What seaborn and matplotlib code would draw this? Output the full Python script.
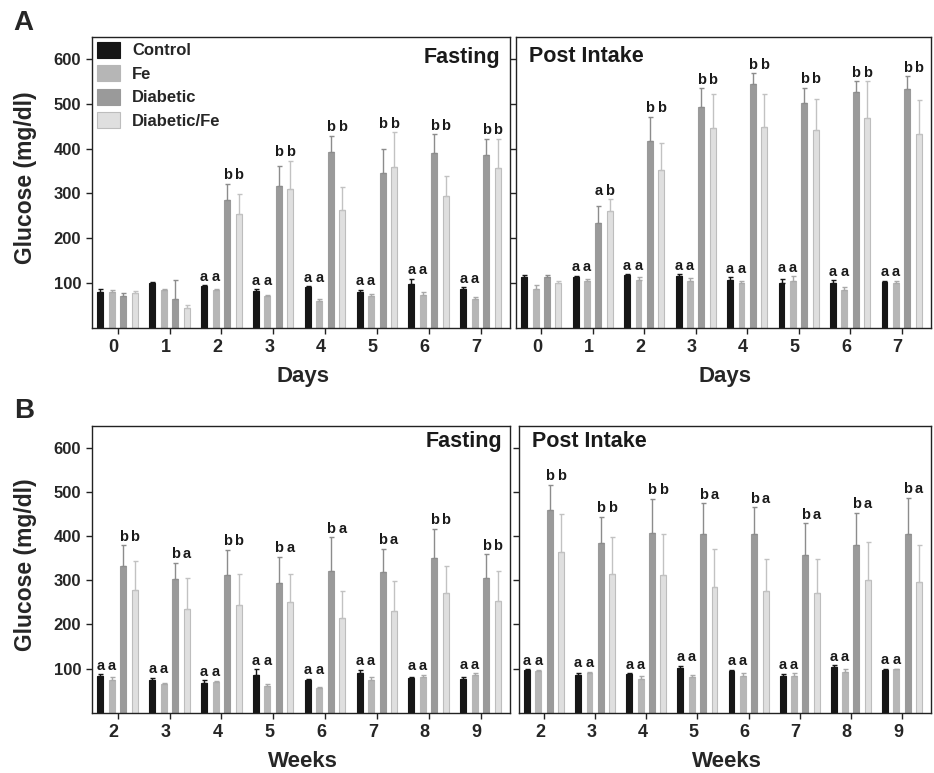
import pandas as pd
import matplotlib
matplotlib.use("Agg")
import matplotlib.pyplot as plt
import matplotlib.transforms as mtransforms
from matplotlib.patches import Patch
from matplotlib.container import BarContainer
import seaborn as sns

# groups and their grey shades
groups = ["Control", "Fe", "Diabetic", "Diabetic/Fe"]
bar_colors = ["#161616", "#b6b6b6", "#9a9a9a", "#dfdfdf"]
edge_colors = ["#161616", "#b6b6b6", "#9a9a9a", "#bdbdbd"]
err_colors = ["#161616", "#a9a9a9", "#8c8c8c", "#c2c2c2"]

days = ["0", "1", "2", "3", "4", "5", "6", "7"]
weeks = ["2", "3", "4", "5", "6", "7", "8", "9"]

# A - fasting (days)
a_fast_mean = {
    "Control": [80, 100, 93, 82, 91, 80, 97, 86],
    "Fe": [80, 84, 84, 71, 59, 71, 74, 64],
    "Diabetic": [71, 64, 285, 316, 392, 346, 391, 385],
    "Diabetic/Fe": [77, 43, 253, 309, 264, 358, 295, 356],
}
a_fast_err = {
    "Control": [7, 2, 2, 4, 2, 5, 13, 4],
    "Fe": [4, 3, 3, 3, 6, 5, 5, 4],
    "Diabetic": [6, 43, 37, 45, 37, 53, 41, 37],
    "Diabetic/Fe": [4, 7, 46, 64, 50, 79, 43, 66],
}
a_fast_letters = ["", "", "aabb", "aabb", "aabb", "aabb", "aabb", "aabb"]

# A - post intake (days)
a_post_mean = {
    "Control": [113, 114, 117, 116, 106, 101, 100, 102],
    "Fe": [86, 104, 107, 104, 100, 104, 84, 101],
    "Diabetic": [113, 234, 417, 494, 544, 503, 527, 533],
    "Diabetic/Fe": [101, 260, 352, 447, 449, 441, 469, 432],
}
a_post_err = {
    "Control": [4, 2, 2, 3, 7, 9, 6, 3],
    "Fe": [9, 4, 6, 8, 5, 11, 6, 3],
    "Diabetic": [4, 39, 54, 41, 24, 33, 24, 29],
    "Diabetic/Fe": [4, 27, 61, 74, 72, 70, 81, 76],
}
a_post_letters = ["", "aaab", "aabb", "aabb", "aabb", "aabb", "aabb", "aabb"]

# B - fasting (weeks)
b_fast_mean = {
    "Control": [83, 74, 68, 86, 73, 89, 79, 77],
    "Fe": [74, 65, 69, 60, 56, 74, 80, 86],
    "Diabetic": [333, 302, 311, 293, 321, 319, 351, 304],
    "Diabetic/Fe": [277, 234, 244, 250, 215, 231, 271, 253],
}
b_fast_err = {
    "Control": [4, 5, 6, 13, 4, 8, 2, 4],
    "Fe": [7, 3, 2, 5, 3, 6, 6, 4],
    "Diabetic": [46, 38, 58, 60, 77, 52, 66, 55],
    "Diabetic/Fe": [66, 70, 71, 65, 60, 67, 62, 69],
}
b_fast_letters = ["aabb", "aaba", "aabb", "aaba", "aaba", "aaba", "aabb", "aabb"]

# B - post intake (weeks)
b_post_mean = {
    "Control": [96, 86, 87, 101, 94, 83, 104, 97],
    "Fe": [95, 89, 77, 80, 83, 83, 93, 98],
    "Diabetic": [459, 384, 407, 405, 405, 357, 380, 405],
    "Diabetic/Fe": [365, 314, 311, 285, 276, 271, 301, 296],
}
b_post_err = {
    "Control": [3, 5, 2, 5, 3, 4, 4, 3],
    "Fe": [2, 4, 7, 5, 6, 7, 5, 2],
    "Diabetic": [57, 60, 78, 69, 60, 72, 73, 82],
    "Diabetic/Fe": [84, 84, 94, 85, 71, 76, 85, 83],
}
b_post_letters = ["aabb", "aabb", "aabb", "aaba", "aaba", "aaba", "aaba", "aaba"]

sns.set_theme(style="ticks")
plt.rcParams["font.family"] = ["Liberation Sans", "DejaVu Sans"]
plt.rcParams["font.weight"] = "bold"
plt.rcParams["axes.labelweight"] = "bold"


def draw_panel(ax, cats, means, errs, letters, title, title_pos, xlabel, xlab_y, show_y):
    rows = []
    for g in groups:
        for c, m in zip(cats, means[g]):
            rows.append({"t": c, "glucose": m, "group": g})
    df = pd.DataFrame(rows)

    sns.barplot(data=df, x="t", y="glucose", hue="group", order=cats, hue_order=groups,
                palette=bar_colors, saturation=1, width=0.89, gap=0.48,
                errorbar=None, legend=False, ax=ax)

    # edges + error bars (upper only)
    bar_conts = [c for c in ax.containers if isinstance(c, BarContainer)]
    centers = {}
    for k, cont in enumerate(bar_conts):
        g = groups[k]
        xs, ys = [], []
        for bar in cont:
            bar.set_edgecolor(edge_colors[k])
            bar.set_linewidth(0.8)
            xs.append(bar.get_x() + bar.get_width() / 2)
            ys.append(bar.get_height())
        centers[g] = xs
        ax.errorbar(xs, ys, yerr=[[0] * len(ys), errs[g]], fmt="none",
                    ecolor=err_colors[k], elinewidth=1, capsize=1.8, capthick=1, zorder=1)

    # significance letters
    for j, lab in enumerate(letters):
        if not lab:
            continue
        for pair in [(0, 1), (2, 3)]:
            top = max(means[groups[p]][j] + errs[groups[p]][j] for p in pair)
            for p in pair:
                ax.text(centers[groups[p]][j], top + 10, lab[p], ha="center", va="baseline",
                        fontsize=10.5, fontweight="bold", color="#1a1a1a")

    ax.set_xlim(-0.49, 7.57)
    ax.set_ylim(0, 650)
    ax.set_yticks([100, 200, 300, 400, 500, 600])
    ax.tick_params(axis="both", direction="out", length=4, width=1, color="#222222", pad=4)
    ax.tick_params(axis="x", labelsize=13)
    ax.tick_params(axis="y", labelsize=12)
    for lbl in ax.get_xticklabels():
        lbl.set_fontweight("bold")
        lbl.set_transform(lbl.get_transform() + mtransforms.ScaledTranslation(-0.04, 0, ax.figure.dpi_scale_trans))
    for lbl in ax.get_yticklabels():
        lbl.set_fontweight("bold")
    for s in ax.spines.values():
        s.set_visible(True)
        s.set_linewidth(1)
        s.set_color("#222222")

    ax.set_xlabel(xlabel, fontsize=16, fontweight="bold")
    ax.xaxis.set_label_coords(0.504, xlab_y)
    if show_y:
        ax.set_ylabel("Glucose (mg/dl)", fontsize=16.5, fontweight="bold")
        ax.yaxis.set_label_coords(-0.133, 0.515)
    else:
        ax.set_ylabel("")
        ax.tick_params(axis="y", labelleft=False)

    x, y, ha = title_pos
    ax.text(x, y, title, transform=ax.transAxes, ha=ha, va="center",
            fontsize=15.5, fontweight="bold", color="#1a1a1a")


fig = plt.figure(figsize=(9.34, 7.73), dpi=100)
ax_a1 = fig.add_axes([0.0988, 0.576, 0.4473, 0.3765])
ax_a2 = fig.add_axes([0.5525, 0.576, 0.4443, 0.3765])
ax_b1 = fig.add_axes([0.0988, 0.078, 0.4473, 0.3713])
ax_b2 = fig.add_axes([0.5557, 0.078, 0.4411, 0.3713])

draw_panel(ax_a1, days, a_fast_mean, a_fast_err, a_fast_letters, "Fasting",
           (0.976, 0.929, "right"), "Days", -0.13, True)
draw_panel(ax_a2, days, a_post_mean, a_post_err, a_post_letters, "Post Intake",
           (0.031, 0.932, "left"), "Days", -0.13, False)
draw_panel(ax_b1, weeks, b_fast_mean, b_fast_err, b_fast_letters, "Fasting",
           (0.981, 0.945, "right"), "Weeks", -0.135, True)
draw_panel(ax_b2, weeks, b_post_mean, b_post_err, b_post_letters, "Post Intake",
           (0.031, 0.944, "left"), "Weeks", -0.135, False)

handles = [Patch(facecolor=bar_colors[k], edgecolor=edge_colors[k], linewidth=0.8) for k in range(4)]
ax_a1.legend(handles, groups, loc="upper left", frameon=False,
             prop={"weight": "bold", "size": 12}, handlelength=1.38, handleheight=1.08,
             handletextpad=0.7, labelspacing=0.42, borderpad=0, borderaxespad=0.3)

fig.text(0.0246, 0.970, "A", ha="center", va="center", fontsize=20, fontweight="bold")
fig.text(0.0257, 0.468, "B", ha="center", va="center", fontsize=20, fontweight="bold")

fig.savefig("out.png", dpi=100)
